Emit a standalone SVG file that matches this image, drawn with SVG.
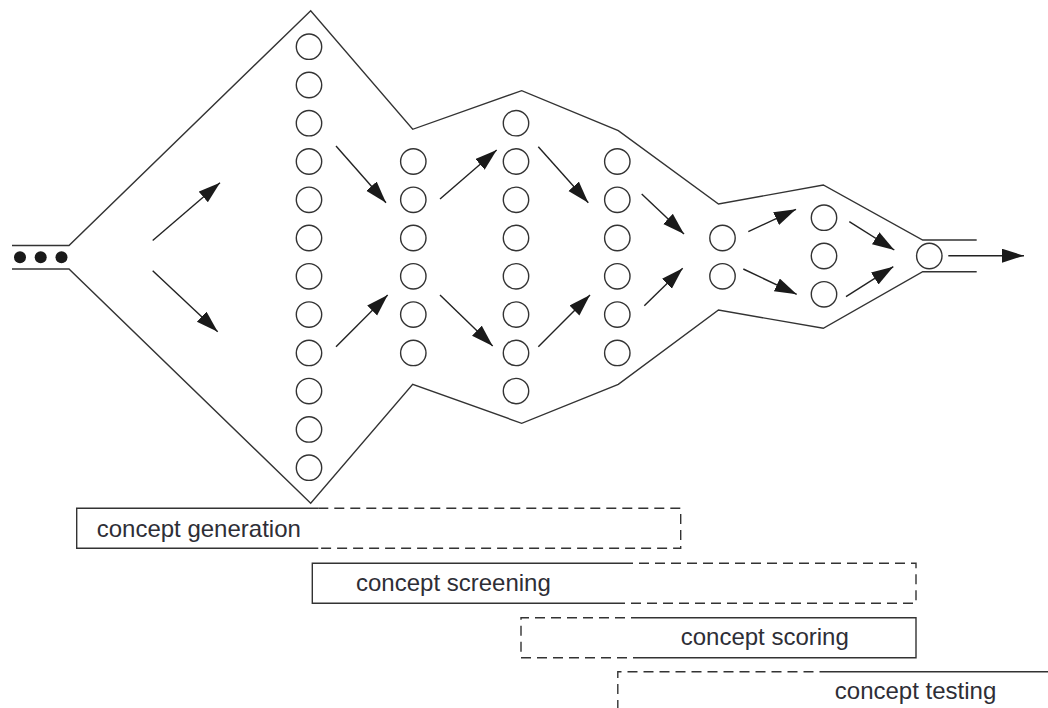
<svg xmlns="http://www.w3.org/2000/svg" width="1048" height="708" viewBox="0 0 1048 708">
<style>
.ln{fill:none;stroke:#333;stroke-width:1.4}
.ds{fill:none;stroke:#333;stroke-width:1.4;stroke-dasharray:10 6}
.c{fill:#fff;stroke:#333;stroke-width:1.4}
.dot{fill:#1a1a1a}
.ar{fill:none;stroke:#222;stroke-width:1.4;marker-end:url(#ah)}
.t{font-family:"Liberation Sans",Arial,sans-serif;font-size:24px;fill:#2e2e36}
</style>
<defs>
<marker id="ah" markerUnits="userSpaceOnUse" markerWidth="24" markerHeight="16" refX="22" refY="7" orient="auto">
<path d="M0,0 L22,7 L0,14 z" fill="#1a1a1a"/>
</marker>
</defs>
<rect width="1048" height="708" fill="#fff"/>
<g id="funnel">
<polyline class="ln" points="12,245.5 69,245.5 310.7,10.7 412.7,129.3 521.7,90.7 618.3,130.7 718.5,204 823.3,185 922.7,240 976.7,240"/>
<polyline class="ln" points="12,269 69,269 310.7,503.3 412.7,384.3 521.7,423.3 618.3,384.3 718.5,310 823.3,328.3 922.7,271.7 976.7,271.7"/>
</g>
<g id="input">
<circle class="dot" cx="20" cy="257.3" r="6"/>
<circle class="dot" cx="40.7" cy="257.3" r="6"/>
<circle class="dot" cx="61.5" cy="257.3" r="6"/>
</g>
<g id="column-1">
<circle class="c" cx="309" cy="46.7" r="12.7"/>
<circle class="c" cx="309" cy="85" r="12.7"/>
<circle class="c" cx="309" cy="123.2" r="12.7"/>
<circle class="c" cx="309" cy="161.5" r="12.7"/>
<circle class="c" cx="309" cy="199.8" r="12.7"/>
<circle class="c" cx="309" cy="238" r="12.7"/>
<circle class="c" cx="309" cy="276.3" r="12.7"/>
<circle class="c" cx="309" cy="314.6" r="12.7"/>
<circle class="c" cx="309" cy="352.9" r="12.7"/>
<circle class="c" cx="309" cy="391.1" r="12.7"/>
<circle class="c" cx="309" cy="429.4" r="12.7"/>
<circle class="c" cx="309" cy="467.7" r="12.7"/>
</g>
<g id="column-2">
<circle class="c" cx="413.3" cy="161.5" r="12.7"/>
<circle class="c" cx="413.3" cy="199.8" r="12.7"/>
<circle class="c" cx="413.3" cy="238" r="12.7"/>
<circle class="c" cx="413.3" cy="276.3" r="12.7"/>
<circle class="c" cx="413.3" cy="314.6" r="12.7"/>
<circle class="c" cx="413.3" cy="352.9" r="12.7"/>
</g>
<g id="column-3">
<circle class="c" cx="516" cy="123.2" r="12.7"/>
<circle class="c" cx="516" cy="161.5" r="12.7"/>
<circle class="c" cx="516" cy="199.8" r="12.7"/>
<circle class="c" cx="516" cy="238" r="12.7"/>
<circle class="c" cx="516" cy="276.3" r="12.7"/>
<circle class="c" cx="516" cy="314.6" r="12.7"/>
<circle class="c" cx="516" cy="352.9" r="12.7"/>
<circle class="c" cx="516" cy="391.1" r="12.7"/>
</g>
<g id="column-4">
<circle class="c" cx="617.3" cy="161.5" r="12.7"/>
<circle class="c" cx="617.3" cy="199.8" r="12.7"/>
<circle class="c" cx="617.3" cy="238" r="12.7"/>
<circle class="c" cx="617.3" cy="276.3" r="12.7"/>
<circle class="c" cx="617.3" cy="314.6" r="12.7"/>
<circle class="c" cx="617.3" cy="352.9" r="12.7"/>
</g>
<g id="column-5">
<circle class="c" cx="722.5" cy="238" r="12.7"/>
<circle class="c" cx="722.5" cy="276.3" r="12.7"/>
</g>
<g id="column-6">
<circle class="c" cx="824" cy="217.7" r="12.7"/>
<circle class="c" cx="824" cy="256" r="12.7"/>
<circle class="c" cx="824" cy="294.3" r="12.7"/>
</g>
<g id="column-7">
<circle class="c" cx="929.3" cy="256" r="12.7"/>
</g>
<g id="connectors">
<line class="ar" x1="152.7" y1="240.5" x2="220" y2="182.7"/>
<line class="ar" x1="152.7" y1="270.7" x2="217.7" y2="331.7"/>
<line class="ar" x1="336" y1="146" x2="386" y2="202.7"/>
<line class="ar" x1="336" y1="346.7" x2="387.7" y2="295"/>
<line class="ar" x1="440" y1="199" x2="496.7" y2="150"/>
<line class="ar" x1="440" y1="295" x2="492.7" y2="346"/>
<line class="ar" x1="538.3" y1="146.7" x2="588.3" y2="202.7"/>
<line class="ar" x1="538.3" y1="346.7" x2="590" y2="295"/>
<line class="ar" x1="641.7" y1="194" x2="684" y2="234"/>
<line class="ar" x1="644.3" y1="305.7" x2="682.7" y2="268.3"/>
<line class="ar" x1="748.3" y1="231.7" x2="796" y2="209.3"/>
<line class="ar" x1="743.3" y1="269" x2="796.7" y2="294.3"/>
<line class="ar" x1="849.3" y1="221.7" x2="894.3" y2="250"/>
<line class="ar" x1="846" y1="296.7" x2="893.3" y2="266.7"/>
<line class="ar" x1="948.3" y1="255.7" x2="1024" y2="255.7"/>
</g>
<g id="concept-generation">
<polyline class="ln" points="318.3,508.3 76.7,508.3 76.7,548.3 318.3,548.3"/>
<polyline class="ds" points="318.3,508.3 680.7,508.3 680.7,548.3 318.3,548.3"/>
<text class="t" x="96.7" y="536.7">concept generation</text>
</g>
<g id="concept-screening">
<polyline class="ln" points="623,563.3 312.3,563.3 312.3,603.3 623,603.3"/>
<polyline class="ds" points="623,563.3 916,563.3 916,603.3 623,603.3"/>
<text class="t" x="356" y="590.7">concept screening</text>
</g>
<g id="concept-scoring">
<polyline class="ds" points="641,617.7 521,617.7 521,657.7 641,657.7"/>
<polyline class="ln" points="641,617.7 916,617.7 916,657.7 641,657.7"/>
<text class="t" x="680.7" y="644.5">concept scoring</text>
</g>
<g id="concept-testing">
<polyline class="ds" points="617.8,710 617.8,671.7 820,671.7"/>
<line class="ln" x1="820" y1="671.7" x2="1048" y2="671.7"/>
<text class="t" x="834.8" y="699.3">concept testing</text>
</g>
</svg>
